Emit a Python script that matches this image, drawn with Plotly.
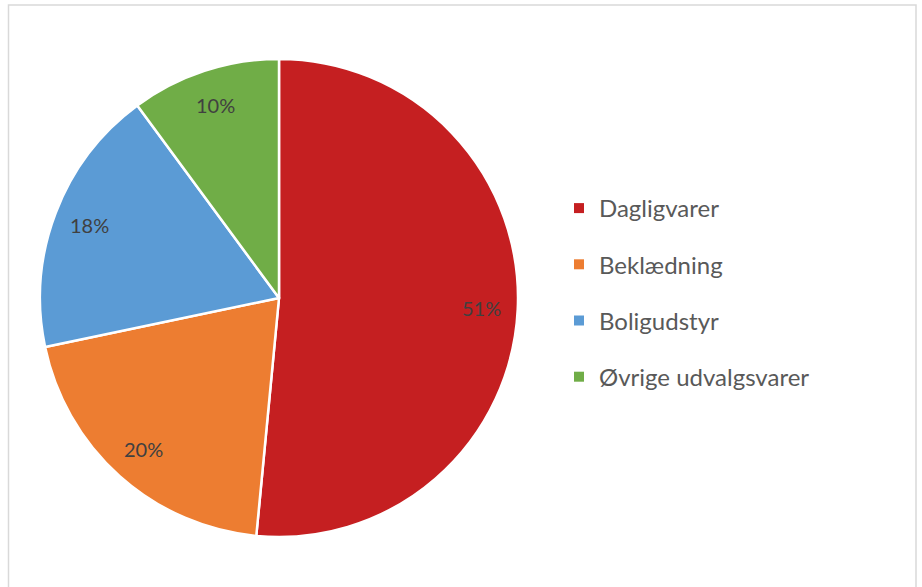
import math
import plotly.graph_objects as go

categories = ["Dagligvarer", "Beklædning", "Boligudstyr", "Øvrige udvalgsvarer"]
shares = [51, 20, 18, 10]
colors = ["#C51F21", "#ED7D31", "#5B9BD5", "#70AD47"]

W, H = 922, 587
cx, cy, r = 279, 298, 239
label_frac = 0.85

fig = go.Figure()
fig.add_trace(go.Pie(
    labels=categories,
    values=shares,
    sort=False,
    direction="clockwise",
    rotation=0,
    marker=dict(colors=colors, line=dict(color="white", width=2.5)),
    textinfo="none",
    hoverinfo="label+percent",
    domain=dict(x=[(cx - r) / W, (cx + r) / W], y=[(H - cy - r) / H, (H - cy + r) / H]),
    showlegend=False,
))

# legend entries (square markers) with generous spacing
for cat, col in zip(categories, colors):
    fig.add_trace(go.Scatter(
        x=[None], y=[None], mode="markers", name=cat, legendgroup=cat,
        marker=dict(symbol="square", size=10, color=col),
        hoverinfo="skip",
    ))

# data labels placed along each slice's mid-angle
total = sum(shares)
annotations = []
cum = 0.0
for v in shares:
    mid = (cum + v / 2) / total * 2 * math.pi
    cum += v
    d = label_frac * r
    px = cx + d * math.sin(mid)
    py = (H - cy) + d * math.cos(mid)
    annotations.append(dict(
        x=px / W, y=py / H, xref="paper", yref="paper",
        text=f"{v}%", showarrow=False,
        font=dict(family="Lato", size=20, color="#404040"),
        xanchor="center", yanchor="middle",
    ))

fig.update_layout(
    width=W, height=H,
    margin=dict(l=0, r=0, t=0, b=0),
    paper_bgcolor="white",
    plot_bgcolor="white",
    xaxis=dict(visible=False),
    yaxis=dict(visible=False),
    legend=dict(
        x=559 / W, y=1 - 186 / H, xanchor="left", yanchor="top",
        font=dict(family="Lato", size=24, color="#595959"),
        itemwidth=30,
        tracegroupgap=22,
        bgcolor="rgba(0,0,0,0)",
    ),
    annotations=annotations,
    shapes=[dict(type="rect", xref="paper", yref="paper",
                 x0=8.5 / W, x1=916 / W, y0=-0.01, y1=1 - 5 / H,
                 line=dict(color="#D9D9D9", width=1.5), fillcolor="rgba(0,0,0,0)",
                 layer="below")],
)

fig.write_html("out.html", post_script="document.body.style.margin='0';",
               config={"displayModeBar": False})
